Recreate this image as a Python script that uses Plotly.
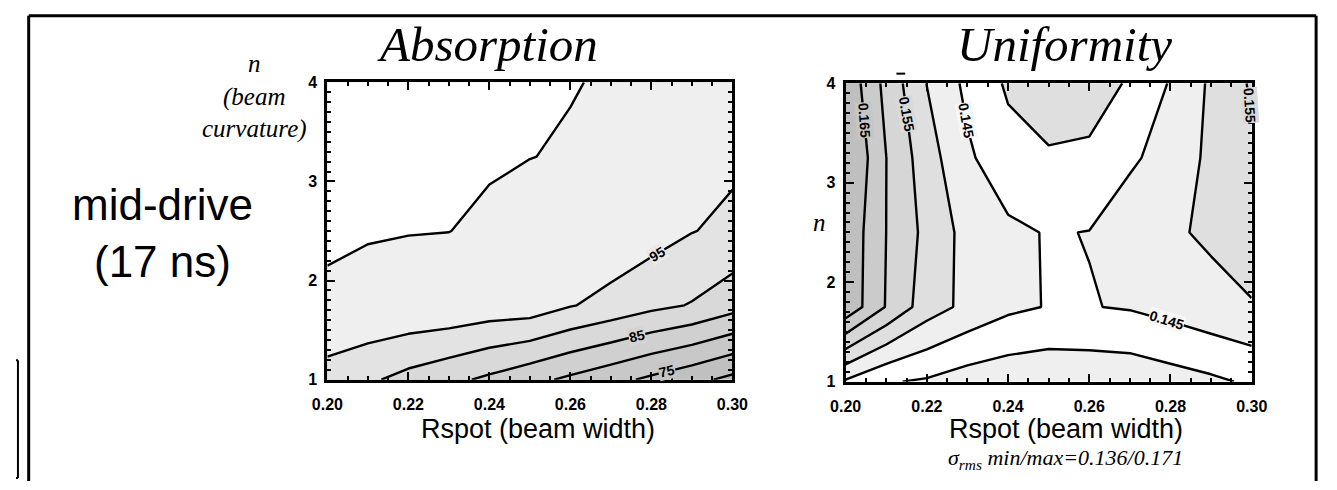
import plotly.graph_objects as go

W, H = 1337, 490

# Grid of the parameter scan
rspot = [0.20, 0.21, 0.22, 0.23, 0.24, 0.25, 0.26, 0.27, 0.28, 0.29, 0.30]
n_curv = [1.0, 1.75, 2.5, 3.25, 4.0]

# Laser absorption (rows follow n_curv, columns follow rspot)
absorption = [
    [93.3, 90.8, 88.4, 86.3, 84.0, 81.5, 79.0, 76.6, 74.0, 71.5, 68.7],
    [98.8, 99.4, 99.1, 98.9, 98.0, 97.8, 95.3, 93.4, 91.3, 89.7, 87.0],
    [101.05, 100.13, 100.06, 100.02, 99.7, 99.4, 99.2, 98.6, 97.0, 95.15, 94.0],
    [101.3, 100.9, 100.6, 100.35, 100.18, 100.02, 99.9, 99.5, 98.5, 97.3, 95.8],
    [101.5, 101.2, 100.9, 100.6, 100.4, 100.25, 100.05, 99.9, 99.5, 98.5, 97.5],
]

# Illumination non-uniformity sigma_rms
uniformity = [
    [0.1444, 0.1404, 0.1394, 0.1376, 0.1367, 0.1363, 0.1365, 0.1367, 0.1379, 0.1391, 0.1407],
    [0.1687, 0.1597, 0.1524, 0.1487, 0.1460, 0.14477, 0.14482, 0.14537, 0.1467, 0.1483, 0.1497],
    [0.1689, 0.15998, 0.1536, 0.1483, 0.1460, 0.1447, 0.14512, 0.1487, 0.1493, 0.1508, 0.1522],
    [0.1710, 0.16003, 0.1522, 0.1458, 0.1418, 0.1405, 0.1406, 0.1440, 0.1475, 0.1509, 0.1544],
    [0.1688, 0.1585, 0.1499, 0.1438, 0.1393, 0.1375, 0.1385, 0.14035, 0.1454, 0.1508, 0.1556],
]

x_ticks = [0.20, 0.22, 0.24, 0.26, 0.28, 0.30]
x_ticktext = ["0.20", "0.22", "0.24", "0.26", "0.28", "0.30"]
y_ticks = [1, 2, 3, 4]
y_ticktext = ["1", "2", "3", "4"]

# Contour levels
abs_levels = dict(start=70, end=100, size=5)
uni_levels = dict(start=0.140, end=0.165, size=0.005)

# One grey per band, lowest band first (below start ... above end)
abs_fills = ["#b4b4b4", "#c0c0c0", "#c8c8c8", "#d0d0d0", "#d9d9d9", "#e3e3e3", "#efefef", "#ffffff"]
uni_fills = ["#efefef", "#ffffff", "#efefef", "#dfdfdf", "#d6d6d6", "#cbcbcb", "#bfbfbf"]
# shade of the closed low-sigma pocket under the top edge
uni_pocket_fill = "#dfdfdf"

# In-line value labels: level, anchor coordinate along the line, search span, text angle
# (horizontal-ish lines are anchored by Rspot, vertical-ish ones by n)
abs_labels = [
    (95, "x", 0.2815, (1.75, 2.5), -31, "#e9e9e9"),
    (85, "x", 0.2765, (1.0, 1.75), -14, "#d4d4d4"),
    (75, "x", 0.2838, (1.0, 1.75), -13, "#c4c4c4"),
]
uni_labels = [
    (0.165, "n", 3.63, (0.20, 0.21), 86, "#c6c6c6"),
    (0.155, "n", 3.69, (0.21, 0.22), 80, "#dadada"),
    (0.145, "n", 3.63, (0.22, 0.24), 80, "#f7f7f7"),
    (0.155, "n", 3.78, (0.29, 0.30), 86, "#dadada"),
    (0.145, "x", 0.2790, (1.0, 1.75), 17, "#f7f7f7"),
]


def band_scale(colors):
    k = len(colors) - 1
    return [[i / k, c] for i, c in enumerate(colors)]


def fx(px):
    return px / W


def fy(py):
    return 1 - py / H


def interp(xs, ys, x):
    for i in range(len(xs) - 1):
        if xs[i] <= x <= xs[i + 1]:
            t = (x - xs[i]) / (xs[i + 1] - xs[i])
            return ys[i] + t * (ys[i + 1] - ys[i])
    return ys[-1]


def crossing(z, level, mode, where, span):
    """Position where the contour of `level` crosses a line of constant x (mode 'x')
    or constant n (mode 'n'), searched inside `span`."""
    if mode == "x":
        prof_pos = n_curv
        prof = [interp(rspot, row, where) for row in z]
    else:
        prof_pos = rspot
        cols = list(zip(*z))
        prof = [interp(n_curv, list(col), where) for col in cols]
    for i in range(len(prof_pos) - 1):
        a, b = prof_pos[i], prof_pos[i + 1]
        if b <= span[0] or a >= span[1]:
            continue
        za, zb = prof[i], prof[i + 1]
        if (za - level) * (zb - level) <= 0 and za != zb:
            p = a + (level - za) / (zb - za) * (b - a)
            if span[0] <= p <= span[1]:
                return p
    return 0.5 * (span[0] + span[1])


fig = go.Figure()

# Absorption: filled bands with their level lines
fig.add_trace(go.Contour(
    x=rspot, y=n_curv, z=absorption, xaxis="x", yaxis="y",
    autocontour=False,
    contours=dict(start=abs_levels["start"], end=abs_levels["end"], size=abs_levels["size"],
                  coloring="fill", showlines=True),
    colorscale=band_scale(abs_fills), showscale=False,
    line=dict(color="black", width=2.4, smoothing=0),
    hoverinfo="skip",
))

# Uniformity: bands first, then the pocket below the lowest level near n = 4
# (shaded darker than the low region along n = 1), then the level lines on top.
fig.add_trace(go.Contour(
    x=rspot, y=n_curv, z=uniformity, xaxis="x2", yaxis="y2",
    autocontour=False,
    contours=dict(start=uni_levels["start"], end=uni_levels["end"], size=uni_levels["size"],
                  coloring="fill", showlines=False),
    colorscale=band_scale(uni_fills), showscale=False,
    line=dict(width=0, smoothing=0), hoverinfo="skip",
))
# negated values: the region below the lowest level becomes the single filled band,
# while the background of this layer stays transparent
pocket_z = [[-v for v in row] for row in uniformity[3:]]
fig.add_trace(go.Contour(
    x=rspot, y=n_curv[3:], z=pocket_z, xaxis="x2", yaxis="y2",
    autocontour=False,
    contours=dict(start=-uni_levels["start"], end=-uni_levels["start"], size=uni_levels["size"],
                  coloring="fill", showlines=False),
    colorscale=[[0, "rgba(255,255,255,0)"], [1, uni_pocket_fill]], showscale=False,
    line=dict(width=0, smoothing=0), hoverinfo="skip",
))
fig.add_trace(go.Contour(
    x=rspot, y=n_curv, z=uniformity, xaxis="x2", yaxis="y2",
    autocontour=False,
    contours=dict(start=uni_levels["start"], end=uni_levels["end"], size=uni_levels["size"],
                  coloring="none", showlines=True),
    showscale=False,
    line=dict(color="black", width=2.4, smoothing=0), hoverinfo="skip",
))


def add_labels(z, labels, fmt, xa, ya):
    for level, mode, where, span, ang, bg in labels:
        p = crossing(z, level, mode, where, span)
        xv, yv = (where, p) if mode == "x" else (p, where)
        fig.add_annotation(
            x=xv, y=yv, xref=xa, yref=ya, text=fmt % level, showarrow=False,
            textangle=ang, bgcolor=bg, borderpad=0,
            font=dict(family="Liberation Sans", size=14, color="black", weight="bold"),
        )


add_labels(absorption, abs_labels, "%d", "x", "y")
add_labels(uniformity, uni_labels, "%.3f", "x2", "y2")

tickfont = dict(family="Liberation Sans", size=16, color="black", weight="bold")
axis_common = dict(
    showline=True, linecolor="black", linewidth=3, mirror="allticks",
    ticks="inside", ticklen=8, tickwidth=2, tickcolor="black",
    showgrid=False, zeroline=False, tickfont=tickfont,
)
xaxis_common = dict(axis_common, range=[0.20, 0.30], tickmode="array",
                    tickvals=x_ticks, ticktext=x_ticktext, ticklabelstandoff=8,
                    minor=dict(ticks="inside", ticklen=4, tickwidth=1.5, tickcolor="black",
                               dtick=0.005, tick0=0.2, showgrid=False))
yaxis_common = dict(axis_common, range=[1, 4], tickmode="array",
                    tickvals=y_ticks, ticktext=y_ticktext, ticklabelstandoff=4,
                    minor=dict(ticks="inside", ticklen=4, tickwidth=1.5, tickcolor="black",
                               dtick=0.1, tick0=1, showgrid=False))

fig.update_layout(
    width=W, height=H,
    margin=dict(l=0, r=0, t=0, b=0),
    paper_bgcolor="white", plot_bgcolor="white",
    showlegend=False,
    xaxis=dict(xaxis_common, domain=[fx(319), fx(734)], anchor="y"),
    yaxis=dict(yaxis_common, domain=[fy(385), fy(77)], anchor="x"),
    xaxis2=dict(xaxis_common, domain=[fx(850), fx(1266)], anchor="y2"),
    yaxis2=dict(yaxis_common, domain=[fy(387), fy(78)], anchor="x2"),
)


def hline(x0, x1, y, w):
    fig.add_shape(type="line", xref="paper", yref="paper",
                  x0=fx(x0), x1=fx(x1), y0=fy(y), y1=fy(y),
                  line=dict(color="black", width=w))


def vline(x, y0, y1, w):
    fig.add_shape(type="line", xref="paper", yref="paper",
                  x0=fx(x), x1=fx(x), y0=fy(y0), y1=fy(y1),
                  line=dict(color="black", width=w))


# Outer frame (open at the bottom) and the edge of the neighbouring frame
hline(13, 1332, 8, 3)
vline(13, 8, 490, 3)
vline(1332, 8, 490, 3)
vline(2, 365, 487, 2)
hline(0, 2, 365, 2)
hline(0, 2, 487, 2)
# short stroke above the right panel
hline(902, 911, 68, 2)

serif = "Liberation Serif"
sans = "Liberation Sans"


def text(x, y, s, size, family, xanchor="center", yanchor="middle"):
    fig.add_annotation(xref="paper", yref="paper", x=fx(x), y=fy(y), text=s,
                       showarrow=False, xanchor=xanchor, yanchor=yanchor,
                       font=dict(family=family, size=size, color="black"))


text(483, 38, "<i>Absorption</i>", 49, serif)
text(1074, 38, "<i>Uniformity</i>", 49, serif)
text(150, 233, "mid-drive<br>(17 ns)", 44, sans)
text(244, 92, "<i>n</i><br><i>(beam</i><br><i>curvature)</i>", 25, serif)
text(823, 222, "<i>n</i>", 25, serif)
text(535, 436, "Rspot (beam width)", 27, sans)
text(1076, 436, "Rspot (beam width)", 27, sans)

u_all = [v for row in uniformity for v in row]
text(1075, 467, "<i>σ<sub>rms</sub> min/max=%.3f/%.3f</i>" % (min(u_all), max(u_all)), 22, serif)

fig.write_html("out.html")
